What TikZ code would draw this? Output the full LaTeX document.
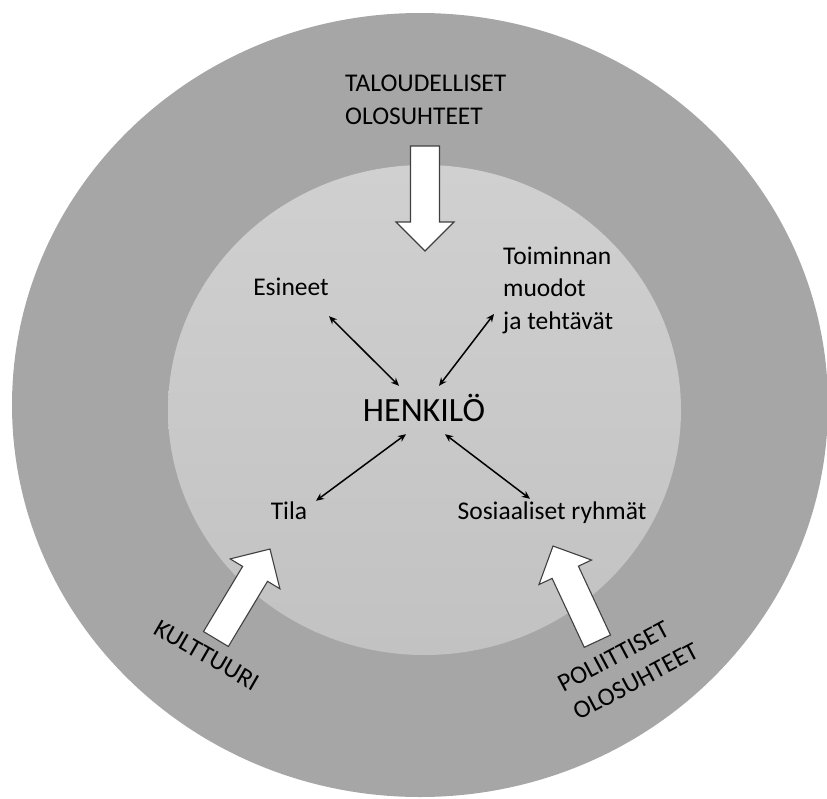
\documentclass[tikz,border=0pt]{standalone}
\usepackage{fontspec}
\setmainfont{Carlito}
\usetikzlibrary{arrows.meta,calc}
\definecolor{ulko}{HTML}{A6A6A6}
\definecolor{sisaylä}{HTML}{D0D0D0}
\definecolor{sisaala}{HTML}{C2C2C2}
\definecolor{reuna}{HTML}{404040}
\tikzset{
>={Stealth[length=8pt,width=7pt]},
teksti/.style={inner sep=0pt,font=\fontsize{25.5}{32.5}\selectfont,text height=18pt,text depth=6pt},
moni/.style={inner sep=0pt,font=\fontsize{25.5}{32.5}\selectfont,align=left},
keski/.style={inner sep=0pt,font=\fontsize{34}{40}\selectfont,text height=22pt,text depth=0pt,minimum height=48pt,minimum width=130pt},
kaksinuoli/.style={<->,line width=1.5pt},
nuoli/.pic={\draw[fill=white,draw=reuna,line width=1.1pt] (0,0) -- (29,29) -- (14.5,29) -- (14.5,105) -- (-14.5,105) -- (-14.5,29) -- (-29,29) -- cycle;}}

\begin{document}
\begin{tikzpicture}[x=1pt,y=-1pt]
\useasboundingbox (0,0) rectangle (827,798);

% renkaat
\fill[ulko] (420,405) ellipse [x radius=408pt,y radius=392pt];
\shade[top color=sisaylä,bottom color=sisaala] (424.5,410) ellipse [x radius=256.5pt,y radius=245pt];

% ulkoiset tekijat
\pic[rotate=180] at (425,251) {nuoli};
\pic[rotate=-31] at (270,549) {nuoli};
\pic[rotate=25] at (553,546) {nuoli};

\node[moni,anchor=west] (talous) at (345,100) {TALOUDELLISET\\OLOSUHTEET};
\node[teksti,rotate=-30] (kulttuuri) at (206,657) {KULTTUURI};
\node[moni,rotate=28] (politiikka) at (628,667) {POLIITTISET\\OLOSUHTEET};

% henkilo ja ymparisto
\node[keski] (henkilo) at (424,410) {HENKILÖ};
\node[teksti] (esineet) at (291,289) {Esineet};
\node[moni,anchor=west] (toiminta) at (503,290) {Toiminnan\\muodot\\ja tehtävät};
\node[teksti] (tila) at (289,513) {Tila};
\node[teksti] (ryhmat) at (552,513) {Sosiaaliset ryhmät};

\draw[kaksinuoli] ([xshift=38pt,yshift=-15pt]esineet.south) -- ([xshift=-25pt]henkilo.north);
\draw[kaksinuoli] ([xshift=-9pt,yshift=-24pt]toiminta.west) -- ([xshift=15pt]henkilo.north);
\draw[kaksinuoli] ([xshift=27pt]tila.north) -- ([xshift=-18pt]henkilo.south);
\draw[kaksinuoli] ([xshift=-22pt,yshift=2pt]ryhmat.north) -- ([xshift=21pt]henkilo.south);

\end{tikzpicture}
\end{document}
